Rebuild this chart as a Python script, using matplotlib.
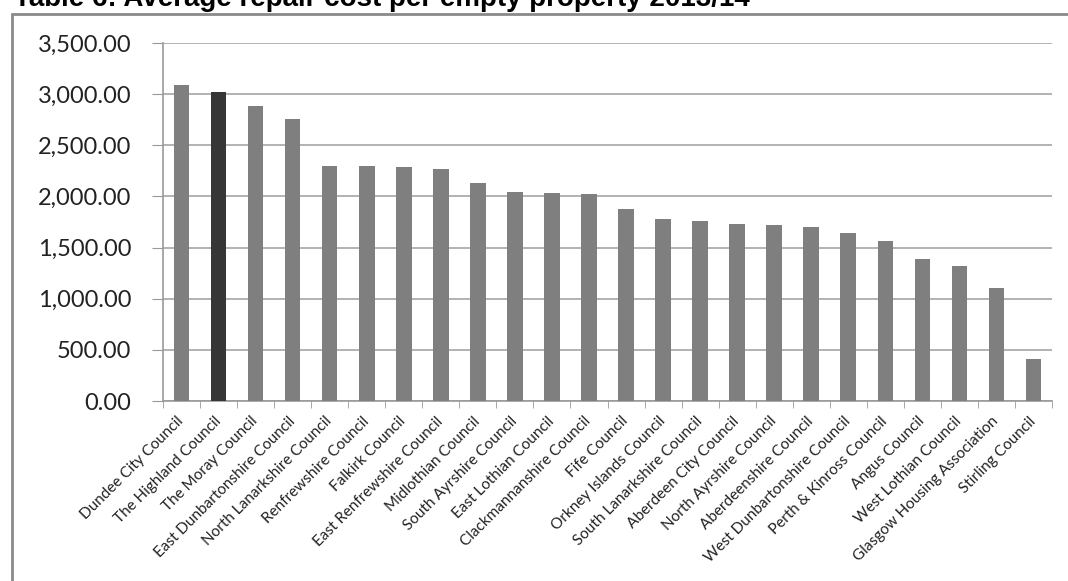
import matplotlib

matplotlib.use("Agg")
import matplotlib.pyplot as plt
from matplotlib.patches import Rectangle
from matplotlib.ticker import FuncFormatter, MultipleLocator

landlords = [
    "Dundee City Council",
    "The Highland Council",
    "The Moray Council",
    "East Dunbartonshire Council",
    "North Lanarkshire Council",
    "Renfrewshire Council",
    "Falkirk Council",
    "East Renfrewshire Council",
    "Midlothian Council",
    "South Ayrshire Council",
    "East Lothian Council",
    "Clackmannanshire Council",
    "Fife Council",
    "Orkney Islands Council",
    "South Lanarkshire Council",
    "Aberdeen City Council",
    "North Ayrshire Council",
    "Aberdeenshire Council",
    "West Dunbartonshire Council",
    "Perth & Kinross Council",
    "Angus Council",
    "West Lothian Council",
    "Glasgow Housing Association",
    "Stirling Council",
]
repair_cost = [
    3088, 3024, 2884, 2760, 2300, 2300, 2285, 2271, 2134, 2046, 2034, 2021,
    1880, 1782, 1757, 1734, 1721, 1704, 1646, 1567, 1391, 1317, 1105, 414,
]
highlight = "The Highland Council"

fig = plt.figure(figsize=(10.68, 5.81), dpi=100)

# outer chart frame (cut off at the right and bottom in the original)
fig.patches.append(Rectangle((11.5 / 1068, -0.1), 1.2, 1.1 - 14 / 581,
                             transform=fig.transFigure, fill=False,
                             edgecolor="#8a8a8a", linewidth=2, zorder=0))

# title sits mostly above the top edge, as in the source screenshot
fig.text(14 / 1068, 1 - 6 / 581, "Table 6: Average repair cost per empty property 2013/14",
         fontsize=20, fontweight="bold", family="Liberation Sans",
         ha="left", va="baseline")

ax = fig.add_axes([163 / 1068, 1 - 401 / 581, 889 / 1068, 358 / 581])
x = range(len(landlords))
colors = ["#363636" if n == highlight else "#7f7f7f" for n in landlords]
ax.bar(x, repair_cost, width=0.42, color=colors, zorder=3)

ax.set_xlim(-0.5, len(landlords) - 0.5)
ax.set_ylim(0, 3500)
ax.yaxis.set_major_locator(MultipleLocator(500))
ax.yaxis.set_major_formatter(FuncFormatter(lambda v, _: f"{v:,.2f}"))
ax.grid(axis="y", color="#a6a6a6", linewidth=1.2, zorder=0)

ax.set_xticks(list(x))
ax.set_xticklabels(landlords, rotation=45, ha="right", va="center",
                   rotation_mode="anchor", fontsize=11, family="Lato",
                   color="#222222")
ax.set_xticks([i - 0.5 for i in range(len(landlords) + 1)], minor=True)
ax.tick_params(axis="x", which="major", length=0, pad=13)
ax.tick_params(axis="x", which="minor", length=5, color="#999999")
ax.tick_params(axis="y", length=8, color="#999999", pad=15,
               labelsize=17, labelcolor="#222222")
for lab in ax.get_yticklabels():
    lab.set_family("Lato")

for side in ("top", "right"):
    ax.spines[side].set_visible(False)
for side in ("left", "bottom"):
    ax.spines[side].set_color("#999999")
    ax.spines[side].set_linewidth(1.2)

fig.savefig("out.png", dpi=100)
